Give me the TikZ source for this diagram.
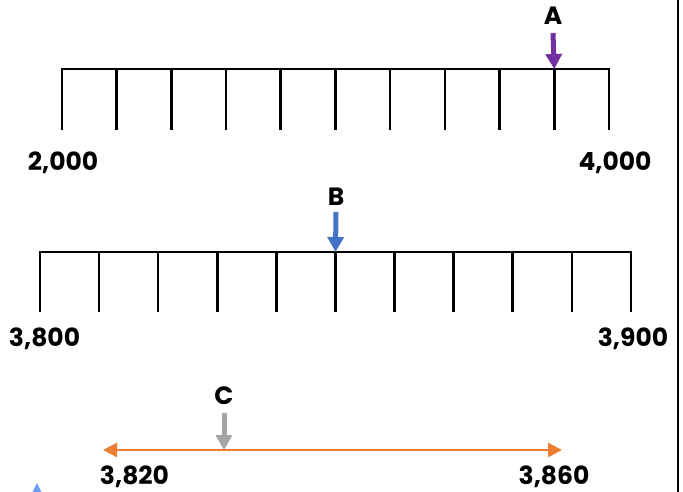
\documentclass[tikz,border=0pt]{standalone}
\usepackage{fontspec}
\setmainfont{Poppins}
\usetikzlibrary{arrows.meta,calc}
\definecolor{cpurple}{HTML}{7030A0}
\definecolor{cblue}{HTML}{4472C4}
\definecolor{cgray}{HTML}{A5A5A5}
\definecolor{corange}{HTML}{ED7D31}
\definecolor{ctri}{HTML}{6A9EF2}
\tikzset{
  axis/.style={line width=2.6pt, black},
  lab/.style={font=\fontsize{25}{27}\selectfont\bfseries, inner sep=0pt},
  marker/.style={line width=5pt, -{Triangle[width=16pt,length=15pt]}},
  span/.style={line width=2.6pt, corange, {Triangle[width=14pt,length=14pt]}-{Triangle[width=14pt,length=14pt]}}
}
\begin{document}
\begin{tikzpicture}[x=1pt,y=-1pt]
\useasboundingbox (0,0) rectangle (683,492);
% right border
\draw[line width=1.3pt] (678,0) coordinate (r0) -- (678,492) coordinate (r1);
% line 1
\coordinate (a0) at (62,69);
\coordinate (a10) at (609,69);
\draw[axis, line cap=rect] (a0) -- (a10);
\foreach \i in {0,...,10}{\draw[axis] ($(a0)!\i/10!(a10)$) -- ++(0,61);}
\node[lab] (A) at (553,16) {A};
\coordinate (Atail) at (553,33);
\coordinate (Atip) at ($(a0)!0.9!(a10)$);
\draw[marker, cpurple] (Atail) -- (Atip);
\node[lab] (l2000) at (63,163) {2,000};
\node[lab] (l4000) at (615,163) {4,000};
% line 2
\coordinate (b0) at (40,252);
\coordinate (b10) at (631,252);
\draw[axis, line cap=rect] (b0) -- (b10);
\foreach \i in {0,...,10}{\draw[axis] ($(b0)!\i/10!(b10)$) -- ++(0,60);}
\node[lab] (B) at (336,197) {B};
\coordinate (Btail) at (336,212);
\coordinate (Btip) at ($(b0)!0.5!(b10)$);
\draw[marker, cblue] (Btail) -- (Btip);
\node[lab] (l3800) at (44.5,339) {3,800};
\node[lab] (l3900) at (633,339) {3,900};
% line 3
\coordinate (c0) at (103,450);
\coordinate (c1) at (562,450);
\draw[span] (c0) -- (c1);
\node[lab] (C) at (224,396) {C};
\coordinate (Ctail) at (224,413);
\coordinate (Ctip) at (224,450);
\draw[marker, cgray] (Ctail) -- (Ctip);
\node[lab] (l3820) at (134.5,477) {3,820};
\node[lab] (l3860) at (554,477) {3,860};
% small triangle
\fill[ctri] (32,493) -- (37,483) -- (42,493) -- cycle;
\end{tikzpicture}
\end{document}
